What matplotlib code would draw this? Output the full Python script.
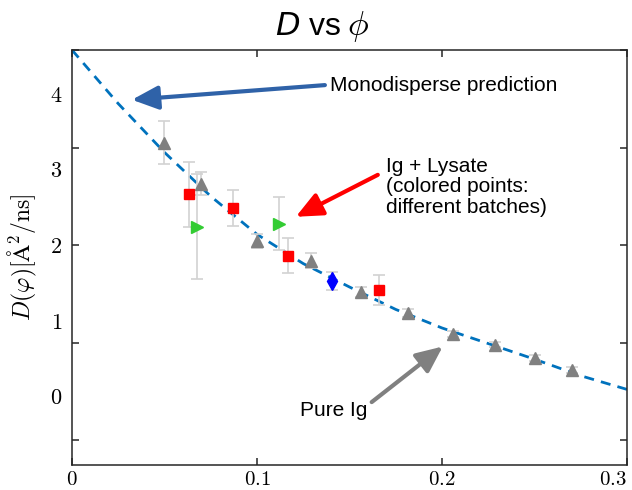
import matplotlib
matplotlib.use("Agg")
import matplotlib.pyplot as plt
import numpy as np

# ---------------- data ----------------
# Monodisperse prediction curve
pred_phi = [0.0, 0.025, 0.05, 0.075, 0.1, 0.125, 0.15, 0.175, 0.2, 0.225, 0.25, 0.275, 0.3]
pred_D = [4.00, 3.45, 2.95, 2.50, 2.11, 1.81, 1.57, 1.34, 1.15, 0.99, 0.83, 0.66, 0.52]

# Pure Ig (gray triangles)
pure_phi = [0.0497, 0.0697, 0.0999, 0.129, 0.156, 0.1815, 0.206, 0.2285, 0.250, 0.270]
pure_D = [3.05, 2.63, 2.04, 1.84, 1.52, 1.30, 1.09, 0.98, 0.84, 0.72]
pure_err = [0.22, 0.12, 0.07, 0.08, 0.05, 0.04, 0.03, 0.03, 0.03, 0.03]

# Ig + Lysate batches
red_phi = [0.0632, 0.0870, 0.1167, 0.1659]
red_D = [2.52, 2.38, 1.89, 1.54]
red_err = [0.33, 0.18, 0.18, 0.15]

green_phi = [0.0675, 0.1118]
green_D = [2.19, 2.22]
green_err = [0.54, 0.27]

blue_phi = [0.1405]
blue_D = [1.63]
blue_err = [0.09]

x_ticks = [0, 0.1, 0.2, 0.3]
x_ticklabels = ["0", "0.1", "0.2", "0.3"]
y_ticks = [0, 1, 2, 3, 4]
y_ticklabels = ["0", "1", "2", "3", "4"]

# ---------------- figure ----------------
plt.rcParams["mathtext.fontset"] = "cm"
fig = plt.figure(figsize=(6.32, 4.9), dpi=100)
ax = fig.add_axes([72 / 632, 25 / 490, 555 / 632, 415 / 490])

ax.plot(pred_phi, pred_D, color="#0072BD", lw=2.0, dashes=(3.6, 2.6), zorder=2)

ebar_kw = dict(ecolor="#d2d2d2", elinewidth=1.2, capsize=4, capthick=1.2, linestyle="none", zorder=3)
ax.errorbar(pure_phi, pure_D, yerr=pure_err, marker="^", ms=9, mfc="#808080", mec="#808080", **ebar_kw)
ax.errorbar(red_phi, red_D, yerr=red_err, marker="s", ms=7, mfc="#ff0000", mec="#ff0000", **ebar_kw)
ax.errorbar(green_phi, green_D, yerr=green_err, marker=">", ms=9, mfc="#33cc33", mec="#33cc33", **ebar_kw)
ax.errorbar(blue_phi, blue_D, yerr=blue_err, marker="d", ms=9, mfc="#0000ff", mec="#0000ff", **ebar_kw)

ax.set_xlim(0, 0.3)
ax.set_ylim(-0.255, 4.0)

# x ticks
ax.set_xticks(x_ticks)
ax.set_xticklabels(["$" + t + "$" for t in x_ticklabels], fontsize=15)
xt = ax.get_xticklabels()
xt[-1].set_horizontalalignment("right")

# y ticks: marks at values, labels at compressed positions (as in the original export)
ax.yaxis.remove_overlapping_locs = False
ax.set_yticks(y_ticks)
ax.set_yticklabels([])
lab_pos = [2 + (v - 2) * 0.776 for v in y_ticks]
ax.set_yticks(lab_pos, minor=True)
ax.set_yticklabels(["$" + t + "$" for t in y_ticklabels], minor=True, fontsize=16)
ax.tick_params(axis="y", which="minor", length=0, pad=7)

ax.tick_params(axis="both", which="major", direction="in", length=5, width=1.1,
               top=True, right=True, color="#262626")
ax.tick_params(axis="x", pad=3)
for s in ax.spines.values():
    s.set_color("#262626")
    s.set_linewidth(1.1)

ax.set_ylabel(r"$D(\varphi)[\mathrm{\AA}^2/\mathrm{ns}]$", fontsize=17, labelpad=8)

fig.text(343 / 632, 0.945, r"$D$ vs ", fontsize=23, ha="right", va="center",
         family="Liberation Sans", math_fontfamily="dejavusans")
fig.text(347 / 632, 0.945, r"$\phi$", fontsize=25, ha="left", va="center",
         math_fontfamily="cm")

# annotations
txt_kw = dict(fontsize=15, family="Liberation Sans", color="black")


def arrow(head, tail, color):
    ax.annotate("", xy=head, xytext=tail,
                arrowprops=dict(arrowstyle="-|>,head_length=0.8,head_width=0.36",
                                lw=3, color=color, shrinkA=0, shrinkB=0, mutation_scale=20),
                zorder=5)


arrow((0.0324, 3.49), (0.1367, 3.64), "#2F62A8")
ax.text(0.1394, 3.64, "Monodisperse prediction", va="center", ha="left", **txt_kw)

arrow((0.121, 2.29), (0.1653, 2.72), "#ff0000")
ax.text(0.1696, 2.60, "Ig + Lysate\n(colored points:\ndifferent batches)", va="center", ha="left",
        linespacing=1.1, **txt_kw)

arrow((0.2004, 0.96), (0.162, 0.39), "#808080")
ax.text(0.1232, 0.30, "Pure Ig", va="center", ha="left", **txt_kw)

fig.savefig("out.png", dpi=100)
